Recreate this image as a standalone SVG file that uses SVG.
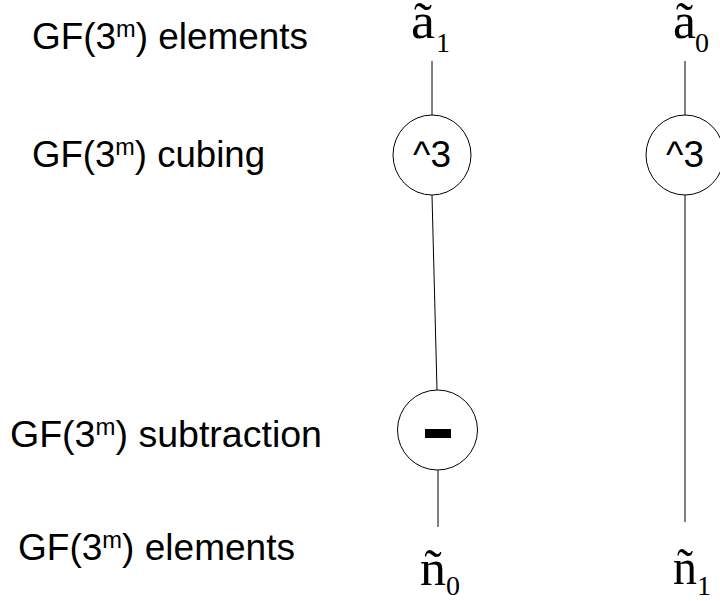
<svg xmlns="http://www.w3.org/2000/svg" width="720" height="601" viewBox="0 0 720 601">
<style>
.lbl{font-family:"Liberation Sans",Arial,sans-serif;font-size:36px;fill:#000}
.sup{font-size:23px}
.mv{font-family:"Liberation Serif","Times New Roman",serif;font-size:50px;fill:#000}
.ms{font-family:"Liberation Serif","Times New Roman",serif;font-size:28px;fill:#000}
.op{fill:#fff;stroke:#000;stroke-width:1}
.optx{font-family:"Liberation Sans",Arial,sans-serif;font-size:37px;fill:#000;text-anchor:middle}
.wire{stroke:#000;stroke-width:1;fill:none}
</style>
<rect width="720" height="601" fill="#fff"/>
<g id="row-labels">
<text class="lbl" x="32" y="49" textLength="276" lengthAdjust="spacingAndGlyphs">GF(3<tspan class="sup" dy="-12">m</tspan><tspan dy="12">) elements</tspan></text>
<text class="lbl" x="32" y="167" textLength="233" lengthAdjust="spacingAndGlyphs">GF(3<tspan class="sup" dy="-12">m</tspan><tspan dy="12">) cubing</tspan></text>
<text class="lbl" x="10" y="447" textLength="312" lengthAdjust="spacingAndGlyphs">GF(3<tspan class="sup" dy="-12">m</tspan><tspan dy="12">) subtraction</tspan></text>
<text class="lbl" x="18" y="560" textLength="277" lengthAdjust="spacingAndGlyphs">GF(3<tspan class="sup" dy="-12">m</tspan><tspan dy="12">) elements</tspan></text>
</g>
<g id="connectors">
<line class="wire" x1="432" y1="61" x2="432" y2="115"/>
<line class="wire" x1="432" y1="195" x2="437" y2="390"/>
<line class="wire" x1="438" y1="470" x2="438" y2="527"/>
<line class="wire" x1="685" y1="61" x2="685" y2="115"/>
<line class="wire" x1="685" y1="195" x2="685" y2="522"/>
</g>
<g id="in-a1">
<text class="mv" x="411" y="38" textLength="24" lengthAdjust="spacingAndGlyphs">ã</text>
<text class="ms" x="436" y="52">1</text>
</g>
<g id="in-a0">
<text class="mv" x="673" y="38" textLength="23" lengthAdjust="spacingAndGlyphs">ã</text>
<text class="ms" x="695" y="52">0</text>
</g>
<g id="cube-1">
<ellipse class="op" cx="432" cy="155" rx="39" ry="40"/>
<text class="optx" x="432" y="167">^3</text>
</g>
<g id="cube-0">
<ellipse class="op" cx="685" cy="155" rx="39" ry="40"/>
<text class="optx" x="685" y="167">^3</text>
</g>
<g id="sub">
<ellipse class="op" cx="437.5" cy="430" rx="40" ry="40"/>
<rect x="425" y="429" width="26" height="9" fill="#000"/>
</g>
<g id="out-n0">
<text class="mv" x="420" y="585" textLength="26" lengthAdjust="spacingAndGlyphs">ñ</text>
<text class="ms" x="446" y="595">0</text>
</g>
<g id="out-n1">
<text class="mv" x="673" y="584" textLength="24" lengthAdjust="spacingAndGlyphs">ñ</text>
<text class="ms" x="697" y="595">1</text>
</g>
</svg>
